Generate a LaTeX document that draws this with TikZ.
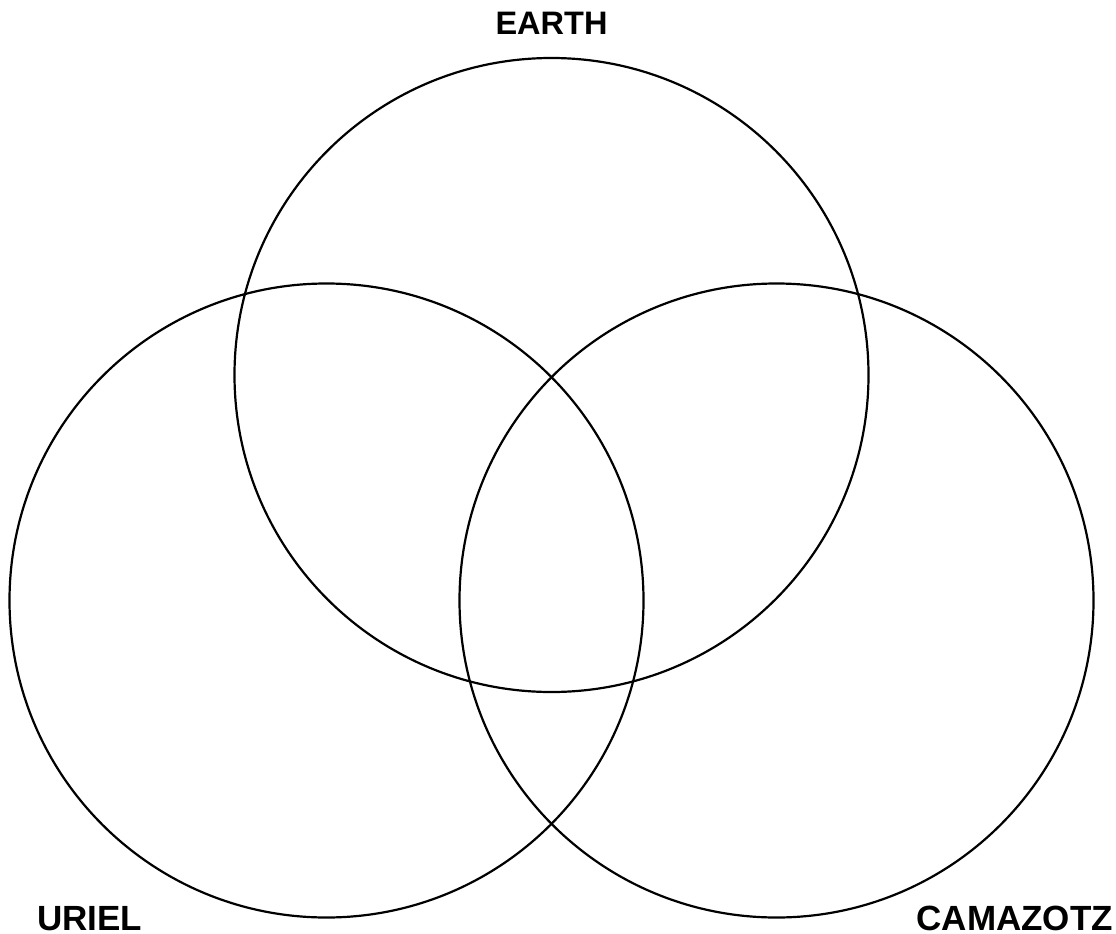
\documentclass[tikz,border=0pt]{standalone}
\usepackage{fontspec}
\setmainfont{Liberation Sans}
\usepackage{tikz}
\usetikzlibrary{positioning}

\begin{document}
\begin{tikzpicture}[x=1pt,y=-1pt,
  ring/.style={draw,circle,line width=2.2pt,minimum size=634pt,inner sep=0pt},
  lbl/.style={inner sep=0pt,font=\bfseries\fontsize{35}{40}\selectfont},
  toplbl/.style={inner sep=0pt,font=\bfseries\fontsize{32.5}{38}\selectfont}]
\useasboundingbox (0,0) rectangle (1116,934);
\node[ring] (earth)    at (551.5,375) {};
\node[ring] (uriel)    at (326.5,600.5) {};
\node[ring] (camazotz) at (776.5,600.5) {};
\node[toplbl,anchor=base] (tearth) at (551.5,35) {EARTH};
\node[lbl,anchor=base west] (turiel) at (37,930) {URIEL};
\node[lbl,anchor=base east] (tcamazotz) at (1113,930) {CAMAZOTZ};
\end{tikzpicture}
\end{document}
